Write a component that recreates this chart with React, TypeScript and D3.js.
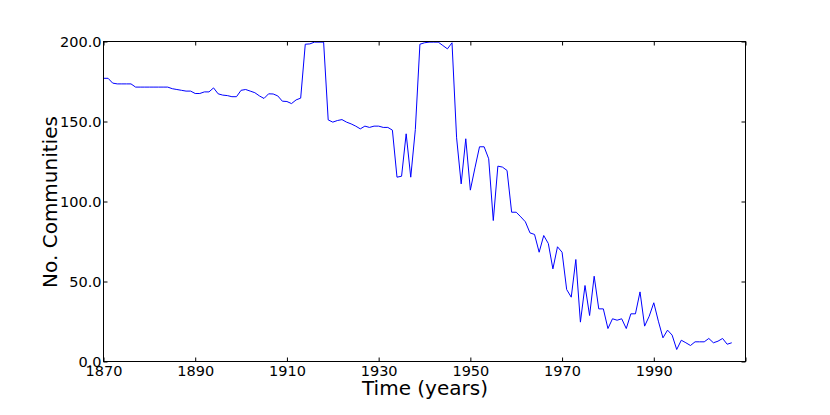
import React, { useRef, useEffect } from "react";
import { select, line, scaleLinear, axisBottom, axisLeft, axisTop, axisRight } from "d3";

// yearly data, 1870 .. 2007
const startYear = 1870;
const communities = [
  177, 177, 174, 173.5, 173.5, 173.5, 173.5, 171.5, 171.5, 171.5,
  171.5, 171.5, 171.5, 171.5, 171.5, 170.5, 170, 169.5, 169, 169,
  167.5, 167.5, 168.5, 168.5, 171, 167.3, 166.5, 166.2, 165.5, 165.5,
  169.5, 170, 169, 168, 166, 164.4, 167.3, 167.2, 166, 162.7,
  162.5, 161.2, 163.5, 164.6, 198.3, 198.5, 199.6, 199.6, 199.6, 151,
  149.6, 150.6, 151.2, 149.6, 148.5, 147.1, 145.4, 147.1, 146.3, 147.1,
  147.1, 146.3, 146.3, 144.6, 115.2, 115.8, 142.3, 115.2, 145, 198.3,
  199.2, 199.6, 199.6, 199.6, 197.5, 195.4, 199.2, 139.8, 111, 139.2,
  107.1, 121, 134.2, 134.2, 126.7, 88.1, 122.1, 121.5, 119.4, 93.3,
  93.3, 90.4, 87.3, 80.4, 79.4, 68.3, 78.75, 73.75, 57.9, 71.7,
  68.3, 45, 40.2, 63.75, 24.6, 47.5, 28.75, 53.3, 32.9, 32.9,
  20.6, 26.7, 25.8, 26.7, 20.6, 29.8, 29.8, 43.5, 22.1, 28.3,
  36.7, 25.2, 14.8, 19.6, 16.5, 7.5, 13.3, 11.7, 10, 12.3,
  12.3, 12.3, 14.4, 11.7, 12.7, 14.4, 10.8, 11.7,
];
const xTicks = [1870, 1890, 1910, 1930, 1950, 1970, 1990, 2010];
const xTickLabels = ["1870", "1890", "1910", "1930", "1950", "1970", "1990", ""];
const yTicks = [0, 50, 100, 150, 200];

const width = 830;
const height = 415;
const margin = { top: 42, right: 84, bottom: 53, left: 104 };
const font = "'DejaVu Sans', sans-serif";

export default function App() {
  const svgRef = useRef<SVGSVGElement>(null);

  useEffect(() => {
    const svg = select(svgRef.current);
    svg.selectAll("*").remove();

    const innerW = width - margin.left - margin.right;
    const innerH = height - margin.top - margin.bottom;

    const xScale = scaleLinear().domain([1870, 2010]).range([0, innerW]);
    const yScale = scaleLinear().domain([0, 200]).range([innerH, 0]);

    const g = svg.append("g").attr("transform", `translate(${margin.left - 0.5},${margin.top - 0.5})`);

    // line
    const myLine = line<number>()
      .x((d, i) => xScale(startYear + i))
      .y((d) => yScale(d));
    g.append("path")
      .datum(communities)
      .attr("d", myLine)
      .attr("fill", "none")
      .attr("stroke", "#0000ff")
      .attr("stroke-width", 1);

    // axes, ticks pointing inward like matplotlib classic
    const styleAxis = (sel) => {
      sel.select(".domain").remove();
      sel.selectAll("line").attr("stroke", "#000");
      sel.selectAll("text").attr("font-family", font).attr("font-size", 14.5).attr("fill", "#000");
    };

    g.append("g")
      .attr("transform", `translate(0,${innerH})`)
      .call(
        axisBottom(xScale)
          .tickValues(xTicks)
          .tickSizeInner(-4)
          .tickSizeOuter(0)
          .tickPadding(4)
          .tickFormat((d, i) => xTickLabels[i])
      )
      .call(styleAxis);
    g.append("g")
      .call(axisTop(xScale).tickValues(xTicks).tickSizeInner(-4).tickSizeOuter(0).tickFormat(() => ""))
      .call(styleAxis);
    g.append("g")
      .call(
        axisLeft(yScale)
          .tickValues(yTicks)
          .tickSizeInner(-4)
          .tickSizeOuter(0)
          .tickPadding(2)
          .tickFormat((d) => (d as number).toFixed(1))
      )
      .call(styleAxis);
    g.append("g")
      .attr("transform", `translate(${innerW},0)`)
      .call(axisRight(yScale).tickValues(yTicks).tickSizeInner(-4).tickSizeOuter(0).tickFormat(() => ""))
      .call(styleAxis);

    // frame
    g.append("rect")
      .attr("width", innerW)
      .attr("height", innerH)
      .attr("fill", "none")
      .attr("stroke", "#000")
      .attr("stroke-width", 1);

    // axis labels
    svg.append("text")
      .attr("x", margin.left + innerW / 2)
      .attr("y", 395)
      .attr("text-anchor", "middle")
      .attr("font-family", font)
      .attr("font-size", 20)
      .text("Time (years)");
    svg.append("text")
      .attr("transform", `translate(57,${margin.top + innerH / 2}) rotate(-90)`)
      .attr("text-anchor", "middle")
      .attr("font-family", font)
      .attr("font-size", 20)
      .text("No. Communities");
  }, []);

  return (
    <div style={{ position: "absolute", left: 0, top: 0, background: "#fff" }}>
      <svg ref={svgRef} width={width} height={height} style={{ display: "block" }} />
    </div>
  );
}
